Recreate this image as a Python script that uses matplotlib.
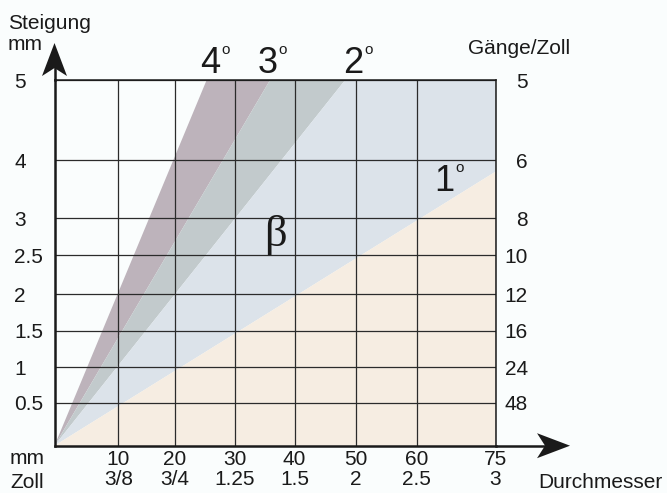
# -*- coding: utf-8 -*-
"""
Steigungswinkel von Gewinden: Steigung ueber Durchmesser
"""
import numpy as np
import matplotlib
matplotlib.use('Agg')
import matplotlib.pyplot as plt
from matplotlib.patches import Polygon

plt.rcParams['font.family'] = ['Liberation Sans', 'DejaVu Sans']

# Durchmesser in mm und Zoll
dia_mm = [10, 20, 30, 40, 50, 60, 75]
dia_zoll = ['3/8', '3/4', '1.25', '1.5', '2', '2.5', '3']
# Steigung in mm und Gaenge pro Zoll
pitch_mm = [0.5, 1, 1.5, 2, 2.5, 3, 4, 5]
pitch_lbl = ['0.5', '1', '1.5', '2', '2.5', '3', '4', '5']
tpi = ['48', '24', '16', '12', '10', '8', '6', '5']
# Steigungswinkel, Endpunkte der Grenzlinien (mm, mm)
angles = ['4', '3', '2', '1']
angle_end_x = [25.3, 35.9, 48.2, 75]
angle_end_y = [5, 5, 5, 3.8]
band_colors = ['#bdb3bb', '#c2cacc', '#dce3ea', '#f6ede2']

# die Achsen sind nicht linear geteilt -> Teilung aus der Vorlage
x_grid = [0, 10, 20, 30, 40, 50, 60, 75]
x_pos = [0, 63.8, 120.5, 180, 240, 301.5, 362, 441]
y_grid = [0, 0.5, 1, 1.5, 2, 2.5, 3, 4, 5]
y_pos = [0, 42.7, 78.4, 114.7, 151.7, 190.4, 227.4, 285.7, 365.4]

def xf(v):
    return np.interp(v, x_grid, x_pos)
def xi(v):
    return np.interp(v, x_pos, x_grid)
def yf(v):
    return np.interp(v, y_grid, y_pos)
def yi(v):
    return np.interp(v, y_pos, y_grid)

W, H = 667, 493
ink = '#1a1a1a'
bg = '#fafdfd'

fig = plt.figure(figsize=(W / 100, H / 100), dpi=100, facecolor=bg)
ax = fig.add_axes([54.5 / W, 1 - 445.7 / H, 441 / W, 365.4 / H])
ax.set_facecolor(bg)
ax.set_xscale('function', functions=(xf, xi))
ax.set_yscale('function', functions=(yf, yi))
ax.set_xlim(0, 75)
ax.set_ylim(0, 5)

# Flaechen zwischen den Winkel-Linien
ex, ey = angle_end_x, angle_end_y
ax.fill([0, ex[0], ex[1]], [0, ey[0], ey[1]], color=band_colors[0], lw=0)
ax.fill([0, ex[1], ex[2]], [0, ey[1], ey[2]], color=band_colors[1], lw=0)
ax.fill([0, ex[2], 75, ex[3]], [0, ey[2], 5, ey[3]], color=band_colors[2], lw=0)
ax.fill([0, ex[3], 75], [0, ey[3], 0], color=band_colors[3], lw=0)

# Raster
ax.set_xticks(dia_mm)
ax.set_xticklabels(['%d\n%s' % (m, z) for m, z in zip(dia_mm, dia_zoll)])
ax.set_yticks(pitch_mm)
ax.set_yticklabels(pitch_lbl)
ax.grid(True, color='#2b2b2b', lw=0.9)
ax.tick_params(axis='x', length=0, pad=3, labelsize=15, labelcolor=ink)
ax.tick_params(axis='y', length=0, pad=29, labelsize=15, labelcolor=ink)
for t in ax.get_yticklabels():
    t.set_horizontalalignment('left')
for t in ax.get_xticklabels():
    t.set_linespacing(1.1)

for s in ['left', 'bottom']:
    ax.spines[s].set_linewidth(1.8)
    ax.spines[s].set_color(ink)
for s in ['top', 'right']:
    ax.spines[s].set_linewidth(1.1)
    ax.spines[s].set_color(ink)

# rechte Skala: Gaenge/Zoll
ax2 = ax.twinx()
ax2.set_yscale('function', functions=(yf, yi))
ax2.set_ylim(0, 5)
ax2.set_yticks(pitch_mm)
ax2.set_yticklabels(tpi)
ax2.tick_params(axis='y', length=0, pad=23.4, labelsize=15, labelcolor=ink)
for t in ax2.get_yticklabels():
    t.set_horizontalalignment('right')
for s in ax2.spines.values():
    s.set_visible(False)

# Winkelbeschriftung
label_x = [25.9, 35.5, 49.6]
for a, x in zip(angles[:3], label_x):
    ax.annotate(a, xy=(x, 5), xytext=(0, 5.3), textcoords='offset points',
                ha='center', va='baseline', fontsize=26, color=ink,
                annotation_clip=False)
    ax.annotate('o', xy=(x, 5), xytext=(8, 5.3 + 13.5), textcoords='offset points',
                ha='left', va='baseline', fontsize=11, color=ink,
                annotation_clip=False)
ax.annotate(angles[3], xy=(65.2, 3.47), xytext=(0, 0), textcoords='offset points',
            ha='center', va='baseline', fontsize=26, color=ink)
ax.annotate('o', xy=(65.2, 3.47), xytext=(8, 13.5), textcoords='offset points',
            ha='left', va='baseline', fontsize=11, color=ink)

ax.text(36.9, 2.77, 'β', family=['Liberation Serif', 'DejaVu Serif'],
        fontsize=32, ha='center', va='center', color=ink)

# Achsenpfeile
def arrow(ax, tip, up):
    bw, bh = ax.bbox.width, ax.bbox.height
    L, hw, notch = 33, 12.5, 8
    tx, ty = tip
    if up:
        pts = [(tx, ty), (tx + hw / bw, ty - L / bh), (tx, ty - (L - notch) / bh),
               (tx - hw / bw, ty - L / bh)]
        ax.plot([tx, tx], [1, ty - 20 / bh], transform=ax.transAxes,
                color=ink, lw=1.8, clip_on=False)
    else:
        pts = [(tx, ty), (tx - L / bw, ty + hw / bh), (tx - (L - notch) / bw, ty),
               (tx - L / bw, ty - hw / bh)]
        ax.plot([1, tx - 20 / bw], [ty, ty], transform=ax.transAxes,
                color=ink, lw=1.8, clip_on=False)
    ax.add_patch(Polygon(pts, closed=True, transform=ax.transAxes,
                         color=ink, lw=0, clip_on=False, zorder=5))

arrow(ax, (0, 1.102), True)
arrow(ax, (1.169, 0), False)

# Achsentitel
fig.text(8 / W, 1 - 29 / H, 'Steigung', fontsize=15, color=ink, va='baseline')
fig.text(8 / W, 1 - 50 / H, 'mm', fontsize=15, color=ink, va='baseline')
fig.text(468 / W, 1 - 54 / H, 'Gänge/Zoll', fontsize=15, color=ink, va='baseline')
fig.text(10 / W, 1 - 459 / H, 'mm', fontsize=15, color=ink, va='center')
fig.text(10 / W, 1 - 482 / H, 'Zoll', fontsize=15, color=ink, va='center')
fig.text(538 / W, 1 - 482 / H, 'Durchmesser', fontsize=15, color=ink, va='center')

fig.savefig('out.png', dpi=100, facecolor=bg)
